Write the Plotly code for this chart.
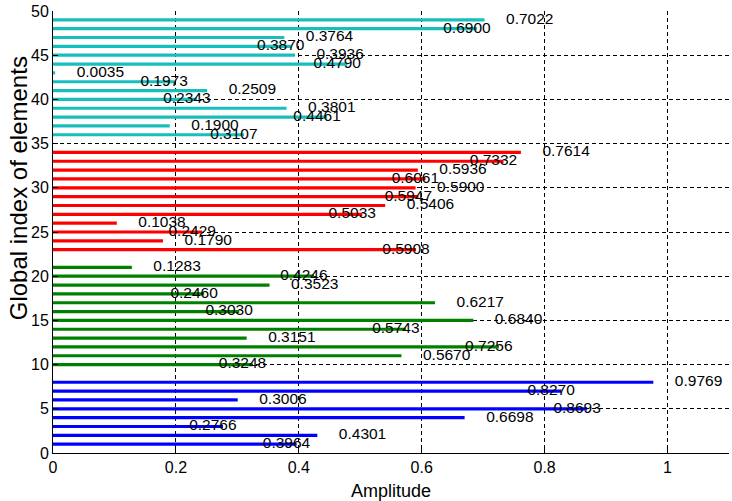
import plotly.graph_objects as go

# Data
blue_idx = list(range(1, 9))
blue_vals = [0.3964, 0.4301, 0.2766, 0.6698, 0.8693, 0.3006, 0.8270, 0.9769]
green_idx = list(range(10, 22))
green_vals = [0.3248, 0.5670, 0.7256, 0.3151, 0.5743, 0.6840, 0.3030, 0.6217,
              0.2460, 0.3523, 0.4246, 0.1283]
red_idx = list(range(23, 35))
red_vals = [0.5908, 0.1790, 0.2429, 0.1038, 0.5033, 0.5406, 0.5947, 0.5900,
            0.6061, 0.5936, 0.7332, 0.7614]
cyan_idx = list(range(36, 50))
cyan_vals = [0.3107, 0.1900, 0.4461, 0.3801, 0.2343, 0.2509, 0.1973, 0.0035,
             0.4790, 0.3936, 0.3870, 0.3764, 0.6900, 0.7022]

x_ticks = [0, 0.2, 0.4, 0.6, 0.8, 1]
x_tick_text = ["0", "0.2", "0.4", "0.6", "0.8", "1"]
y_ticks = [0, 5, 10, 15, 20, 25, 30, 35, 40, 45, 50]

groups = [
    (blue_idx, blue_vals, "#0000FF"),
    (green_idx, green_vals, "#008000"),
    (red_idx, red_vals, "#FF0000"),
    (cyan_idx, cyan_vals, "#17BEBE"),
]

fig = go.Figure()
for idx, vals, col in groups:
    fig.add_trace(go.Bar(
        x=vals, y=idx, orientation="h", width=0.36,
        marker=dict(color=col, line=dict(width=0)),
        showlegend=False, hoverinfo="skip",
    ))
    # label offsets alternate along each group
    lx = [v + (0.035 if (k + 1) % 2 == 0 else -0.055) for k, v in enumerate(vals)]
    fig.add_trace(go.Scatter(
        x=lx, y=idx, mode="text", text=["%.4f" % v for v in vals],
        textposition="middle right",
        textfont=dict(family="Liberation Sans, Arial", size=15.5, color="black"),
        showlegend=False, hoverinfo="skip", cliponaxis=False,
    ))

grid_dash = "4px,3px"
fig.update_layout(
    width=732, height=501,
    margin=dict(l=53, r=3, t=6, b=48),
    paper_bgcolor="white", plot_bgcolor="white",
    barmode="overlay",
    font=dict(family="Liberation Sans, Arial", color="black"),
    xaxis=dict(
        range=[0, 1.1], tickvals=x_ticks, ticktext=x_tick_text,
        showgrid=True, gridcolor="black", gridwidth=1, griddash=grid_dash,
        showline=True, linecolor="black", linewidth=1,
        ticks="inside", ticklen=5, tickcolor="black",
        tickfont=dict(size=16), zeroline=False,
        title=dict(text="Amplitude", font=dict(size=18), standoff=9),
    ),
    yaxis=dict(
        range=[0, 50], tickvals=y_ticks,
        showgrid=True, gridcolor="black", gridwidth=1, griddash=grid_dash,
        showline=True, linecolor="black", linewidth=1,
        ticks="inside", ticklen=5, tickcolor="black",
        tickfont=dict(size=16), zeroline=False,
        ticklabeloverflow="allow",
    ),
    annotations=[dict(
        text="Global index of elements", textangle=-90,
        xref="paper", yref="paper", x=-0.074, y=0.6, xanchor="left",
        yanchor="middle", showarrow=False, font=dict(size=24),
    )],
)

fig.write_html("out.html")
